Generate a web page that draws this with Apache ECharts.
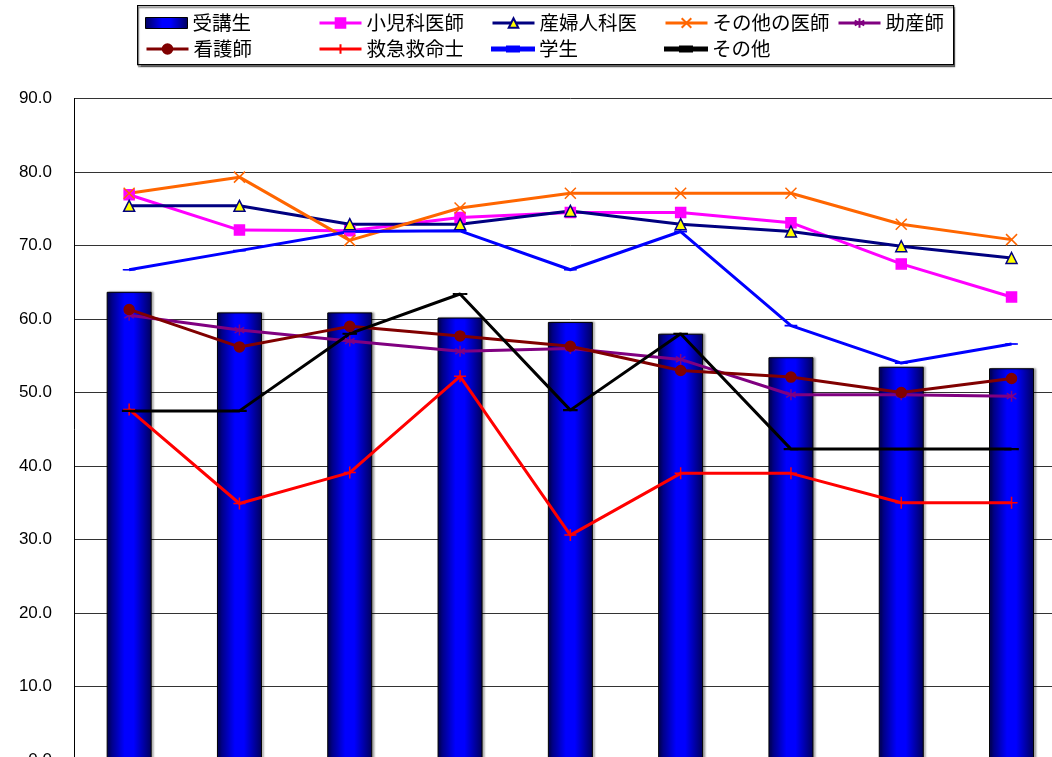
<!DOCTYPE html>
<html>
<head>
<meta charset="utf-8">
<script src="https://cdn.jsdelivr.net/npm/echarts@6/dist/echarts.min.js"></script>
<style>
  html, body { margin: 0; padding: 0; background: #fff; overflow: hidden; width: 1052px; height: 757px; }
  #chart { width: 1100px; height: 800px; }
</style>
</head>
<body>
<div id="chart"></div>
<script>
// Survey results per session (percent)
const categories = ['1', '2', '3', '4', '5', '6', '7', '8', '9'];
const yTicks = [0, 10, 20, 30, 40, 50, 60, 70, 80, 90];

const jukosei     = [63.7, 60.9, 60.9, 60.2, 59.6, 58.0, 54.8, 53.5, 53.3]; // 受講生
const shonika     = [76.9, 72.1, 72.0, 73.8, 74.5, 74.5, 73.1, 67.5, 63.0]; // 小児科医師
const sanfujinka  = [75.4, 75.4, 72.9, 72.9, 74.7, 72.9, 71.9, 69.9, 68.3]; // 産婦人科医
const otherDoctor = [77.1, 79.3, 70.7, 75.1, 77.1, 77.1, 77.1, 72.9, 70.8]; // その他の医師
const josanshi    = [60.5, 58.5, 57.0, 55.6, 56.0, 54.5, 49.7, 49.7, 49.5]; // 助産師
const kangoshi    = [61.3, 56.2, 59.0, 57.7, 56.3, 53.0, 52.1, 50.0, 51.9]; // 看護師
const kyukyu      = [47.7, 34.9, 39.1, 52.2, 30.6, 39.0, 39.0, 35.0, 35.0]; // 救急救命士
const gakusei     = [66.7, 69.3, 71.9, 72.0, 66.7, 71.9, 59.1, 54.0, 56.6]; // 学生
const sonota      = [47.5, 47.5, 58.0, 63.4, 47.6, 58.0, 42.3, 42.3, 42.3]; // その他

const chart = echarts.init(document.getElementById('chart'), null, { renderer: 'canvas' });

const CROSS = 'path://M0,0L10,10M10,0L0,10';
const STAR = 'path://M5,0L5,10M0.7,2.5L9.3,7.5M0.7,7.5L9.3,2.5';
const PLUS = 'path://M5,0L5,10M0,5L10,5';
const DASH = 'path://M0,0L10,0L10,3L0,3Z';
// legend glyph: a 3px line with a short thicker dash in its middle
const DASH_LEGEND = 'path://M0,1L42,1L42,4L0,4ZM15,0L27,0L27,5L15,5Z';

function lineSeries(name, data, color, symbol, size, extra) {
  return Object.assign({
    name: name,
    type: 'line',
    data: data,
    symbol: symbol,
    symbolSize: size,
    symbolKeepAspect: true,
    showSymbol: true,
    lineStyle: { color: color, width: 3 },
    itemStyle: { color: color, borderColor: color, borderWidth: 1.5 },
    emphasis: { disabled: true },
    z: 3
  }, extra || {});
}

const legendText = { color: '#000', fontSize: 19.5, fontFamily: 'Noto Sans CJK JP', lineHeight: 20 };
const colX = [145, 318, 491, 664, 837];
const rowY = [13, 39];
function legendItem(col, row, item, opts) {
  return Object.assign({
    orient: 'horizontal', left: colX[col], top: rowY[row], itemWidth: 42, itemHeight: 12,
    textStyle: legendText, data: [item], selectedMode: false, padding: 0,
    lineStyle: { width: 3 }
  }, opts || {});
}

chart.setOption({
  animation: false,
  backgroundColor: '#fff',
  graphic: [{
    type: 'rect', left: 137, top: 5, z: -1,
    shape: { width: 816, height: 59 },
    style: { fill: '#fff', stroke: '#000', lineWidth: 1.2,
             shadowColor: 'rgba(0,0,0,0.45)', shadowOffsetX: 1, shadowOffsetY: 2, shadowBlur: 1 }
  }],
  legend: [
    legendItem(0, 0, { name: '受講生', icon: 'rect', itemStyle: { borderColor: '#000', borderWidth: 1 } }, { itemHeight: 11 }),
    legendItem(1, 0, '小児科医師'),
    legendItem(2, 0, '産婦人科医'),
    legendItem(3, 0, 'その他の医師'),
    legendItem(4, 0, '助産師'),
    legendItem(0, 1, '看護師'),
    legendItem(1, 1, '救急救命士'),
    legendItem(2, 1, { name: '学生', icon: DASH_LEGEND }, { itemHeight: 5 }),
    legendItem(3, 1, { name: 'その他', icon: DASH_LEGEND }, { itemHeight: 5 })
  ],
  grid: { left: 74, top: 98.5, width: 992.7, height: 661.5, containLabel: false },
  xAxis: {
    type: 'category', data: categories,
    axisLine: { lineStyle: { color: '#000' } },
    axisTick: { show: false },
    axisLabel: { color: '#000', fontSize: 16 }
  },
  yAxis: {
    type: 'value', min: yTicks[0], max: yTicks[yTicks.length - 1], interval: 10,
    axisLine: { show: true, lineStyle: { color: '#000', width: 1 } },
    axisTick: { show: false },
    axisLabel: { color: '#000', fontSize: 17, fontFamily: 'Liberation Sans', margin: 22,
                 formatter: v => v.toFixed(1) },
    splitLine: { show: true, lineStyle: { color: '#333', width: 1 } }
  },
  series: [
    {
      name: '受講生', type: 'bar', data: jukosei, barWidth: 45,
      itemStyle: {
        color: new echarts.graphic.LinearGradient(0, 0, 1, 0, [
          { offset: 0, color: '#00005a' },
          { offset: 0.4, color: '#0000ff' },
          { offset: 0.6, color: '#0000ff' },
          { offset: 1, color: '#00005a' }
        ]),
        borderColor: '#000', borderWidth: 1,
        shadowColor: 'rgba(0,0,0,0.3)', shadowOffsetX: 2, shadowBlur: 2
      },
      emphasis: { disabled: true },
      z: 2
    },
    lineSeries('小児科医師', shonika, '#ff00ff', 'rect', 10),
    lineSeries('産婦人科医', sanfujinka, '#000080', 'triangle', 11, {
      itemStyle: { color: '#ffff00', borderColor: '#000080', borderWidth: 1.5 }
    }),
    lineSeries('その他の医師', otherDoctor, '#ff6600', CROSS, 11),
    lineSeries('助産師', josanshi, '#800080', STAR, 11),
    lineSeries('看護師', kangoshi, '#800000', 'circle', 10),
    lineSeries('救急救命士', kyukyu, '#ff0000', PLUS, 12),
    lineSeries('学生', gakusei, '#0000ff', DASH, [10, 3]),
    lineSeries('その他', sonota, '#000000', DASH, [12, 4])
  ]
});
</script>
</body>
</html>
